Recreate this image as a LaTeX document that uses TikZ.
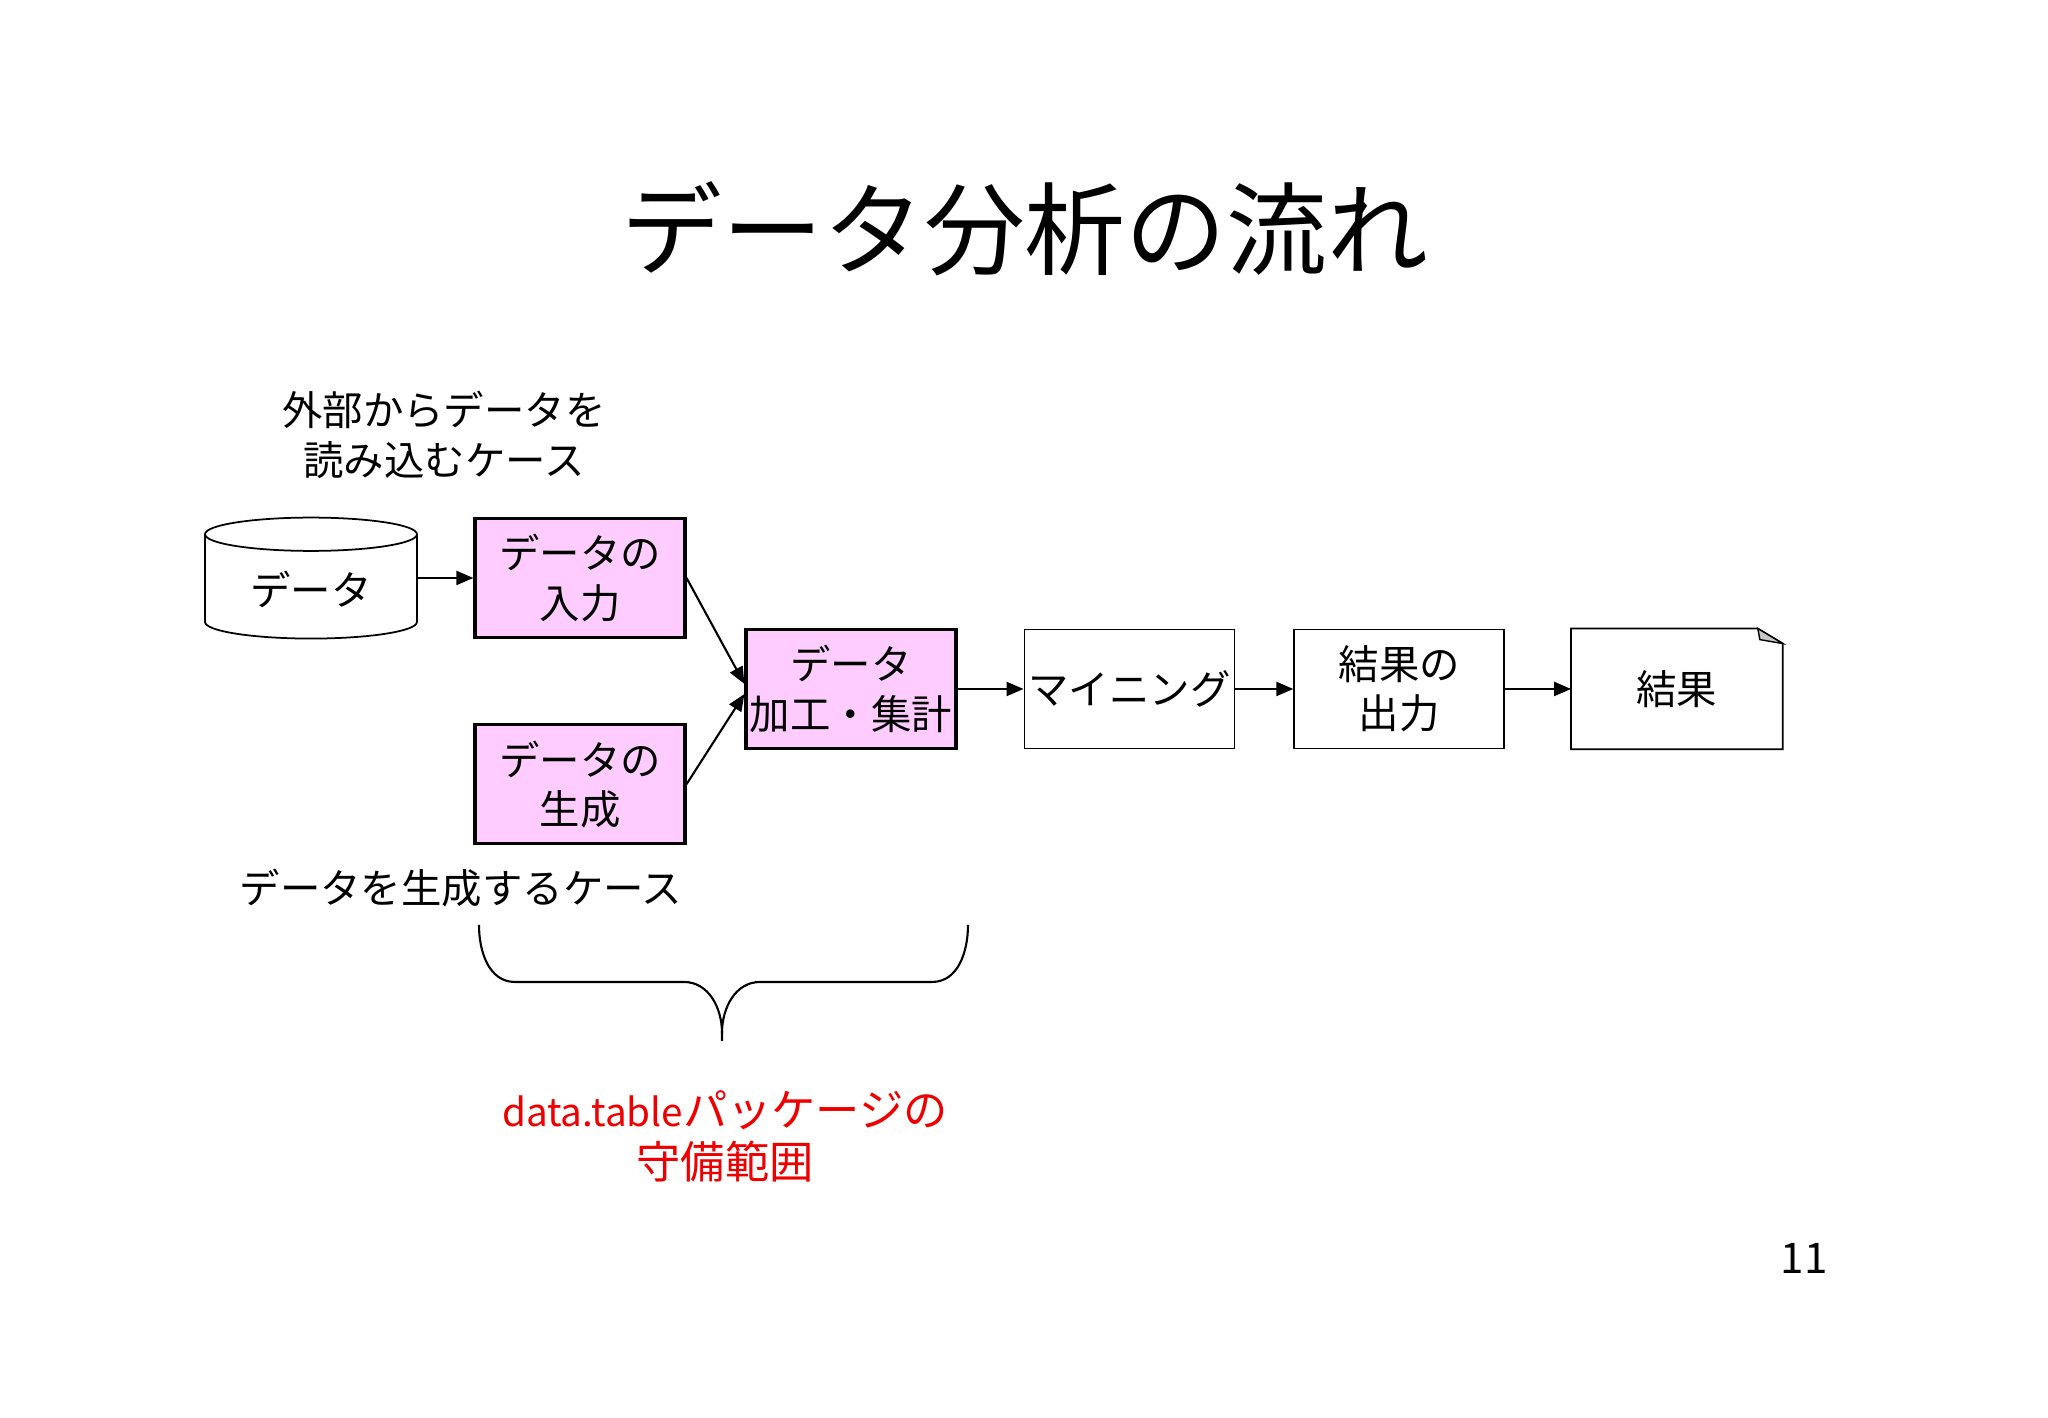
\documentclass[tikz,border=0pt]{standalone}
\usepackage{fontspec}
\setmainfont{Noto Sans CJK JP}
\usetikzlibrary{positioning,arrows.meta,calc,shapes.geometric}
\definecolor{FlowPink}{HTML}{FFCCFF}
\definecolor{FlowRed}{HTML}{EE0000}
\definecolor{FlowFold}{HTML}{C8C8C8}
\newcommand{\boxfont}{\fontsize{11.5}{14}\selectfont}
\tikzset{
  flowLine/.style={-{Triangle[length=1.7mm,width=1.4mm]}, line width=0.6pt, draw=black},
  box/.style={draw=black, line width=0.5pt, fill=white, align=center,
    minimum width=2.10cm, minimum height=1.19cm, inner sep=1pt, font=\boxfont},
  boxPink/.style={box, fill=FlowPink, line width=0.9pt},
  note/.style={align=center, font=\boxfont},
}

\begin{document}
\begin{tikzpicture}[
  dbShape/.style={cylinder, shape border rotate=90, aspect=0.26, draw=black, line width=0.5pt,
    minimum width=2.12cm, minimum height=1.21cm, inner sep=1pt, font=\boxfont},
  docShape/.style={box, draw=none, fill=none},
]
  \useasboundingbox (0,0) rectangle (20.48,14.18);

  \node[font=\fontsize{28.7}{34}\selectfont] (title) at (10.25,11.89) {データ分析の流れ};

  \node[boxPink] (inp) at (5.80,8.40) {データの\\入力};
  \node[boxPink, below=0.84 of inp] (gen) {データの\\生成};
  \node[dbShape] (src) at (3.11,8.29) {データ};
  \node[boxPink] (proc) at (8.51,7.29) {データ\\加工・集計};
  \node[box, right=0.66 of proc] (mine) {マイニング};
  \node[box, right=0.58 of mine] (outp) {結果の\\出力};
  \node[docShape, right=0.66 of outp] (res) {結果};

  % folded sheet for the result
  \draw[line width=0.5pt] (res.north west) -- ([xshift=-0.25cm]res.north east)
    -- ([yshift=-0.15cm]res.north east) -- (res.south east) -- (res.south west) -- cycle;
  \filldraw[fill=FlowFold, draw=black, line width=0.4pt] ([xshift=-0.25cm]res.north east)
    -- ([xshift=-0.23cm,yshift=-0.11cm]res.north east) -- ([yshift=-0.15cm]res.north east) -- cycle;

  \node[note] (readCase) at (4.44,9.83) {外部からデータを\\読み込むケース};
  \node[note] (genCase) at (4.61,5.30) {データを生成するケース};

  \draw[flowLine] (src.east |- inp.west) -- (inp);
  \draw[flowLine] (inp.east) -- ([yshift=0.05cm]proc.west);
  \draw[flowLine] (gen.east) -- ([yshift=-0.05cm]proc.west);
  \draw[flowLine] (proc) -- (mine);
  \draw[flowLine] (mine) -- (outp);
  \draw[flowLine] (outp) -- (res);

  % brace over the package scope
  \coordinate (braceL) at (4.79,4.93);
  \coordinate (braceR) at (9.68,4.93);
  \coordinate (braceTip) at (7.22,3.77);
  \draw[line width=0.6pt] (braceL) to[out=-90,in=180] ($(braceL)+(0.36,-0.57)$)
    -- ($(braceTip)+(-0.38,0.59)$) to[out=0,in=90] ($(braceTip)+(0,0.08)$) -- (braceTip);
  \draw[line width=0.6pt] (braceR) to[out=-90,in=0] ($(braceR)+(-0.36,-0.57)$)
    -- ($(braceTip)+(0.38,0.59)$) to[out=180,in=90] ($(braceTip)+(0,0.08)$);

  \node[align=center, text=FlowRed, font=\fontsize{12.6}{14.8}\selectfont] (scope) at (7.25,2.82)
    {{\fontsize{11}{14.8}\selectfont data.table}パッケージの\\守備範囲};

  \node[font=\fontsize{12}{14}\selectfont] (pageNo) at (18.04,1.60) {11};
\end{tikzpicture}
\end{document}
